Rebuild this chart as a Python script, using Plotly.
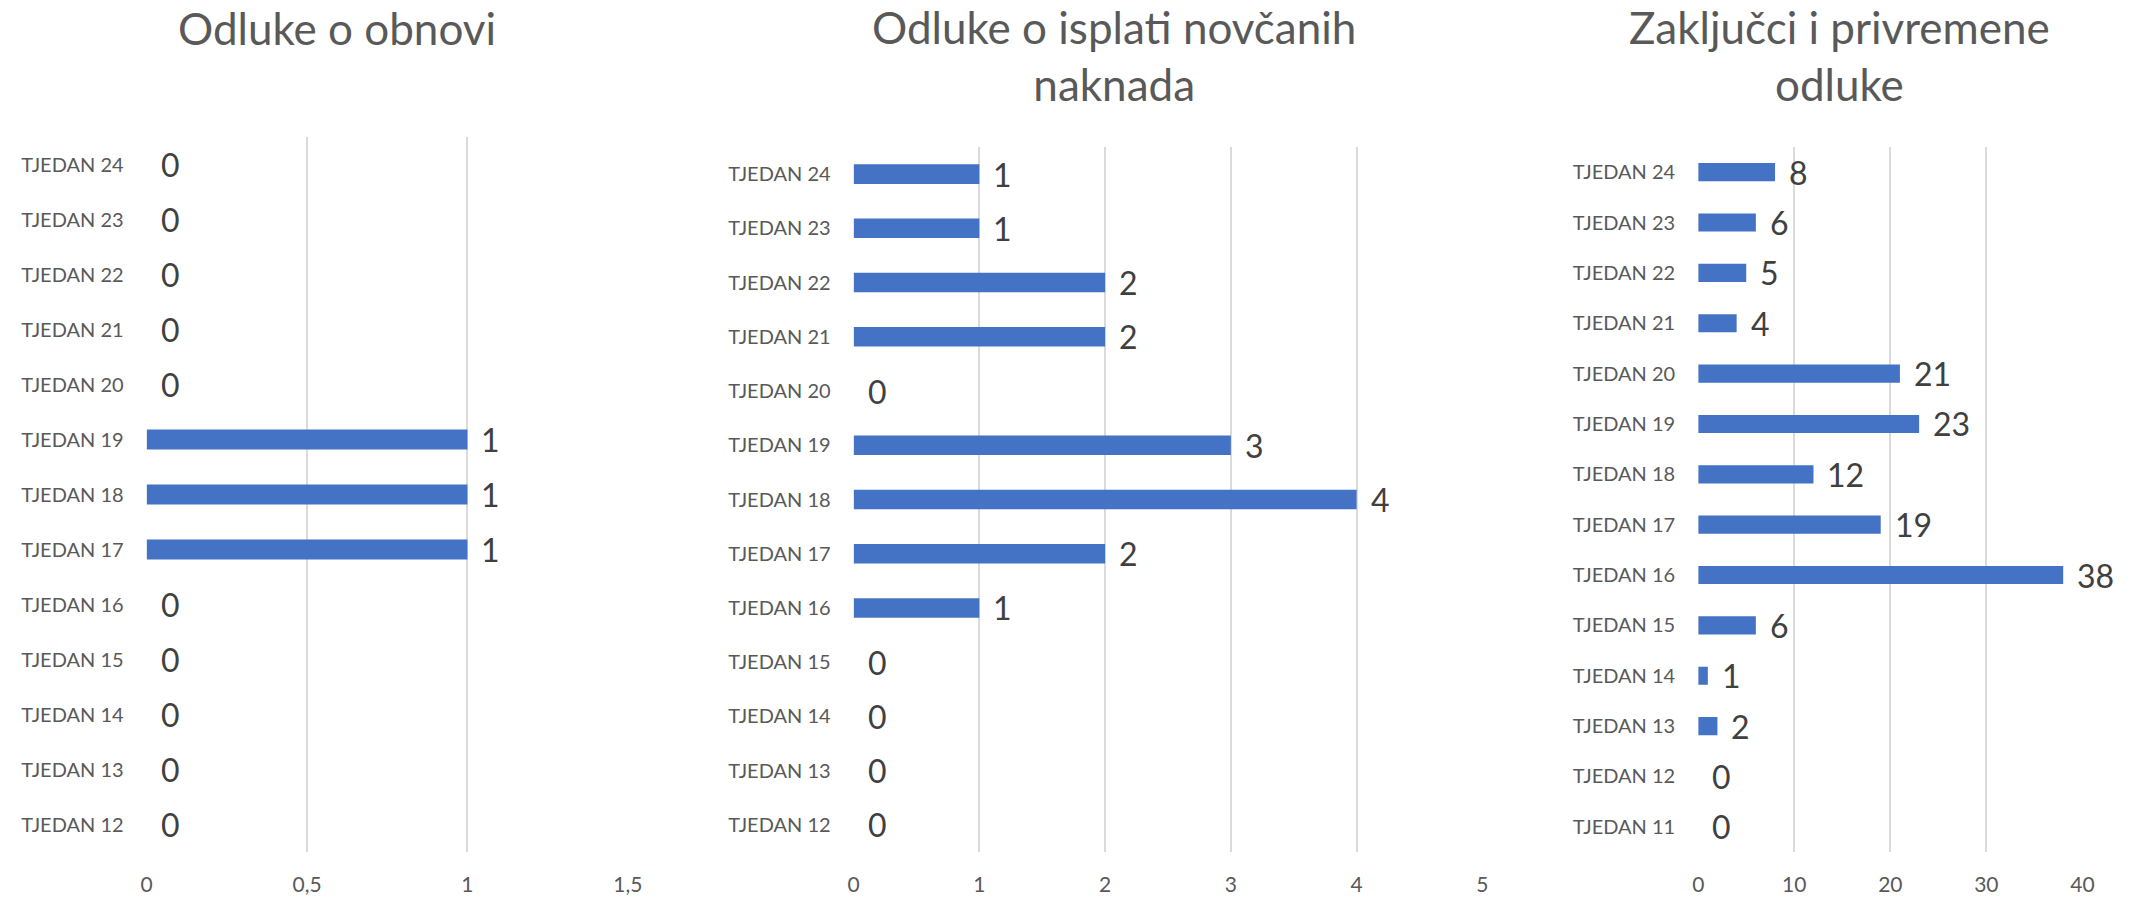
import plotly.graph_objects as go

W, H = 2139, 897

# ---- data ----
weeks_a = [f"TJEDAN {i}" for i in range(12, 25)]
vals_a = [0, 0, 0, 0, 0, 1, 1, 1, 0, 0, 0, 0, 0]

weeks_b = [f"TJEDAN {i}" for i in range(12, 25)]
vals_b = [0, 0, 0, 0, 1, 2, 4, 3, 0, 2, 2, 1, 1]

weeks_c = [f"TJEDAN {i}" for i in range(11, 25)]
vals_c = [0, 0, 2, 1, 6, 38, 19, 12, 23, 21, 4, 5, 6, 8]

titles = ["Odluke o obnovi", "Odluke o isplati novčanih<br>naknada", "Zaključci i privremene<br>odluke"]

ticks_a = [0, 0.5, 1, 1.5]
ticktext_a = ["0", "0,5", "1", "1,5"]
ticks_b = [0, 1, 2, 3, 4, 5]
ticks_c = [0, 10, 20, 30, 40]

# ---- layout geometry (pixels) ----
panels = [
    dict(x0=142, x1=628, y0=137, y1=852, rng=[0, 1.5]),
    dict(x0=856, x1=1491, y0=147, y1=852, rng=[0, 5]),
    dict(x0=1709, x1=2097, y0=147, y1=852, rng=[0, 40]),
]

BAR = "#4472C4"
GRID = "#DADADA"
TXT = "#595959"
FONT = "Lato"

fig = go.Figure()
data = [(weeks_a, vals_a), (weeks_b, vals_b), (weeks_c, vals_c)]
for i, ((cats, vals), p) in enumerate(zip(data, panels)):
    n = "" if i == 0 else str(i + 1)
    fig.add_trace(go.Bar(
        x=vals, y=cats, orientation="h", marker=dict(color=BAR, line=dict(width=0)),
        xaxis="x" + n, yaxis="y" + n, showlegend=False, hoverinfo="x+y",
    ))
    for c, v in zip(cats, vals):
        fig.add_annotation(
            x=v, y=c, xref="x" + n, yref="y" + n, text=str(v), showarrow=False,
            xanchor="left", yanchor="middle", xshift=12,
            font=dict(family=FONT, size=32, color="#404040"),
        )

tickcfg = [
    dict(tickvals=ticks_a, ticktext=ticktext_a),
    dict(tickvals=ticks_b, ticktext=[str(t) for t in ticks_b]),
    dict(tickvals=ticks_c, ticktext=[str(t) for t in ticks_c]),
]

for i, p in enumerate(panels):
    n = "" if i == 0 else str(i + 1)
    fig.update_layout(**{
        "xaxis" + n: dict(
            domain=[p["x0"] / W, p["x1"] / W], range=p["rng"], anchor="y" + n,
            showgrid=True, gridcolor=GRID, gridwidth=2, zeroline=False,
            showline=False, ticks="outside", ticklen=14, tickcolor="rgba(0,0,0,0)",
            tickfont=dict(family=FONT, size=21, color=TXT), fixedrange=True,
            **tickcfg[i],
        ),
        "yaxis" + n: dict(
            domain=[1 - p["y1"] / H, 1 - p["y0"] / H], anchor="x" + n,
            type="category", showgrid=False, zeroline=False, showline=False,
            ticks="outside", ticklen=18, tickcolor="rgba(0,0,0,0)",
            tickfont=dict(family=FONT, size=20, color=TXT), fixedrange=True,
        ),
    })

title_pos = [(334, 28), (1119, 55), (1852, 55)]
for t, (cx, cy) in zip(titles, title_pos):
    fig.add_annotation(
        x=cx / W, y=1 - cy / H, xref="paper", yref="paper", text=t, showarrow=False,
        xanchor="center", yanchor="middle",
        font=dict(family=FONT, size=44, color=TXT),
    )

fig.update_layout(
    width=W, height=H, margin=dict(l=0, r=0, t=0, b=0),
    paper_bgcolor="white", plot_bgcolor="white", bargap=0.64,
)

fig.write_html(
    "out.html",
    config={"displayModeBar": False},
    post_script="document.body.style.margin='0';document.body.style.overflow='hidden';",
)
